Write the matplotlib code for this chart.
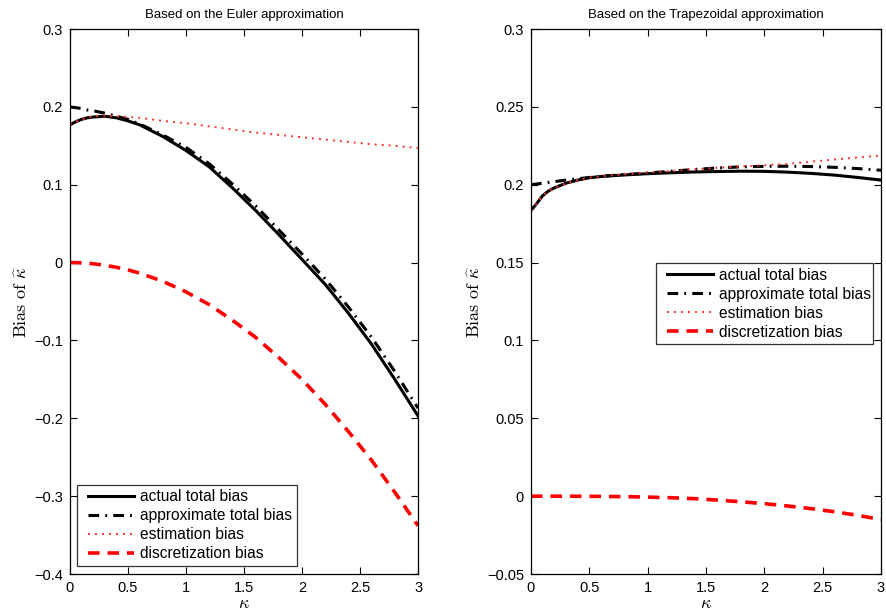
import matplotlib
matplotlib.use("Agg")
import matplotlib.pyplot as plt
from matplotlib.lines import Line2D
from matplotlib.legend_handler import HandlerLine2D

plt.rcParams['font.family'] = ['Liberation Sans', 'DejaVu Sans']
plt.rcParams['mathtext.fontset'] = 'cm'

kappa = [0, 0.05, 0.1, 0.15, 0.2, 0.3, 0.4, 0.5, 0.6, 0.8, 1.0, 1.2, 1.4, 1.6,
         1.8, 2.0, 2.2, 2.4, 2.6, 2.8, 3.0]

# Euler approximation
euler_actual = [0.177, 0.181, 0.184, 0.186, 0.187, 0.188, 0.186, 0.182, 0.177, 0.162,
                0.144, 0.123, 0.096, 0.067, 0.036, 0.004, -0.028, -0.065, -0.105,
                -0.150, -0.197]
euler_approx = [0.200, 0.199, 0.198, 0.196, 0.195, 0.192, 0.188, 0.184, 0.178, 0.164,
                0.148, 0.127, 0.101, 0.073, 0.042, 0.011, -0.021, -0.057, -0.096,
                -0.140, -0.187]
euler_estim = [0.177, 0.181, 0.184, 0.186, 0.188, 0.189, 0.188, 0.187, 0.186, 0.182,
               0.179, 0.175, 0.171, 0.167, 0.164, 0.161, 0.158, 0.155, 0.152,
               0.150, 0.147]
euler_discr = [0.0, 0.0, -0.0004, -0.0008, -0.0015, -0.0034, -0.006, -0.0094, -0.0135,
               -0.024, -0.0376, -0.054, -0.074, -0.096, -0.122, -0.150, -0.182,
               -0.217, -0.254, -0.295, -0.338]

# Trapezoidal approximation
trap_actual = [0.1835, 0.188, 0.193, 0.196, 0.198, 0.201, 0.203, 0.2045, 0.2053, 0.2063,
               0.2071, 0.2077, 0.2082, 0.2085, 0.2087, 0.2086, 0.2081, 0.2073, 0.2062,
               0.2047, 0.2030]
trap_approx = [0.2000, 0.2005, 0.2010, 0.2015, 0.2020, 0.2030, 0.2038, 0.2047, 0.2055,
               0.2065, 0.2075, 0.2087, 0.2098, 0.2108, 0.2115, 0.2118, 0.2119, 0.2117,
               0.2112, 0.2104, 0.2093]
trap_estim = [0.1835, 0.188, 0.193, 0.196, 0.198, 0.201, 0.203, 0.2046, 0.2055, 0.2067,
              0.2078, 0.2088, 0.2099, 0.2109, 0.2118, 0.2125, 0.2134, 0.2148, 0.2162,
              0.2175, 0.2188]
trap_discr = [0.0, 0.0, 0.0, 0.0, 0.0, -0.00002, -0.00004, -0.0001, -0.00015, -0.0003,
              -0.0006, -0.0010, -0.0016, -0.0025, -0.0036, -0.0048, -0.0063, -0.0080,
              -0.0100, -0.0123, -0.0150]

labels = ['actual total bias', 'approximate total bias', 'estimation bias',
          'discretization bias']
titles = ['Based on the Euler approximation', 'Based on the Trapezoidal approximation']
xticks = [0, 0.5, 1, 1.5, 2, 2.5, 3]
yticks_left = [-0.4, -0.3, -0.2, -0.1, 0, 0.1, 0.2, 0.3]
yticks_right = [-0.05, 0, 0.05, 0.1, 0.15, 0.2, 0.25, 0.3]

fig = plt.figure(figsize=(8.87, 6.14), dpi=100)
ax1 = fig.add_axes([0.0789, 0.0651, 0.3924, 0.8876])
ax2 = fig.add_axes([0.5986, 0.0651, 0.3946, 0.8876])

def draw(ax, act, app, est, dis):
    ax.plot(kappa, act, color='black', lw=2.2, linestyle='-', label=labels[0])
    ax.plot(kappa, app, color='black', lw=2.2, linestyle=(0, (3.5, 2.0, 0.6, 2.0)),
            label=labels[1])
    ax.plot(kappa, est, color='#ff3030', lw=1.4, linestyle=(0, (1.0, 2.6)),
            label=labels[2])
    ax.plot(kappa, dis, color='red', lw=2.6, linestyle=(0, (3.2, 2.2)), label=labels[3])

draw(ax1, euler_actual, euler_approx, euler_estim, euler_discr)
draw(ax2, trap_actual, trap_approx, trap_estim, trap_discr)

for ax, title, yt, ylim in [(ax1, titles[0], yticks_left, (-0.4, 0.3)),
                            (ax2, titles[1], yticks_right, (-0.05, 0.3))]:
    ax.set_xlim(0, 3)
    ax.set_ylim(*ylim)
    ax.set_xticks(xticks)
    ax.set_xticklabels(['0', '0.5', '1', '1.5', '2', '2.5', '3'])
    ax.set_yticks(yt)
    ax.set_yticklabels([('%g' % v).replace('-', '\u2212') for v in yt])
    ax.tick_params(direction='in', top=True, right=True, length=5, width=0.8,
                   labelsize=10.5, pad=5)
    for s in ax.spines.values():
        s.set_linewidth(0.9)
    ax.set_title(title, fontsize=9.5, pad=8)
    ax.set_xlabel(r'$\kappa$', fontsize=13, labelpad=0)
    ax.set_ylabel(r'$\mathrm{Bias\ of\ }\widehat{\kappa}$', fontsize=13, labelpad=2)

leg_kw = dict(fontsize=11.2, frameon=True, fancybox=False, edgecolor='black',
              handlelength=3.35, handletextpad=0.38, borderpad=0.3, labelspacing=0.26,
              borderaxespad=0, mode='expand',
              handler_map={Line2D: HandlerLine2D(xpad=0.4)})
l1 = ax1.legend(loc='lower left', bbox_to_anchor=(0.020, 0.0147, 0.632, 0.15), **leg_kw)
l2 = ax2.legend(loc='upper left', bbox_to_anchor=(0.357, 0.42, 0.62, 0.151), **leg_kw)
for l in (l1, l2):
    l.get_frame().set_linewidth(0.9)

fig.savefig('out.png', dpi=100)
